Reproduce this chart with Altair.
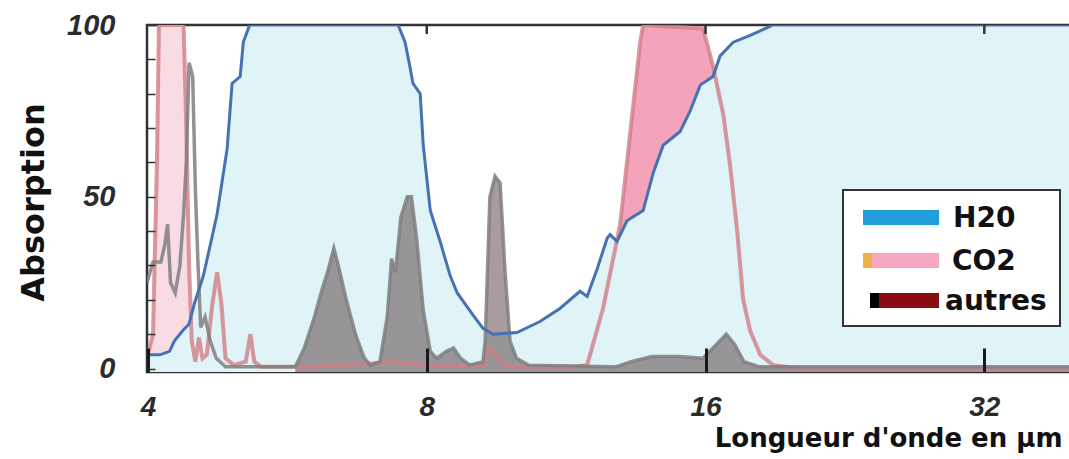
import altair as alt
import pandas as pd

# ---------------- data ----------------
# H2O absorption (blue outline, dotted cyan fill)
h2o_wl = [3.99, 4.12, 4.22, 4.27, 4.36, 4.43, 4.49, 4.59, 4.67, 4.75, 4.87, 4.93, 5.03, 5.07, 5.15,
          7.45, 7.58, 7.67, 7.73, 7.87, 7.93, 8.07, 8.27, 8.48, 8.63, 8.98, 9.20, 9.43, 10.01, 10.60,
          11.14, 11.71, 11.92, 12.22, 12.53, 12.62, 12.84, 13.16, 13.70, 14.05, 14.40, 15.02, 15.40,
          15.79, 16.30, 16.59, 17.14, 17.88, 18.93, 39.5]
h2o_abs = [4, 4, 5, 8, 11, 13, 19, 27, 36, 45, 64, 83, 85, 95, 100,
           100, 95, 88, 83, 80, 65, 46, 37, 27, 22, 15.5, 11.7, 10, 10.5, 13.7,
           17.5, 22.5, 21, 29, 38, 39, 37, 43, 46, 57, 65, 69, 75,
           82.5, 85, 91, 95, 97, 100, 100]

# CO2 absorption (pink outline)
co2_wl = [3.99, 4.05, 4.09, 4.11, 4.37, 4.40, 4.43, 4.46, 4.50, 4.54, 4.58, 4.63, 4.69, 4.75, 4.80,
          4.85, 4.95, 5.10, 5.16, 5.21, 5.30, 6.0, 7.0, 7.3, 8.0, 9.2, 9.35, 9.5, 9.65, 9.8, 10.5,
          11.5, 11.92, 12.40, 12.94, 13.36, 13.60, 13.70, 15.90, 16.30, 16.72, 17.01, 17.31, 17.57,
          17.88, 18.33, 18.93, 20.2, 39.5]
co2_abs = [3, 10, 60, 100, 100, 70, 30, 8, 2, 9, 3, 4, 18, 28, 19,
           3, 1, 2, 10, 2, 0.5, 0.5, 1.5, 2, 1, 1, 6, 4, 2, 0.5, 0.5,
           0.5, 1, 17.5, 42, 76, 95, 100, 99, 88, 74, 59, 40, 20,
           11, 4, 1, 0, 0]

# other gases (grey outline, dark dotted fill)
oth_wl = [3.99, 4.05, 4.13, 4.17, 4.20, 4.23, 4.28, 4.33, 4.37, 4.40, 4.43, 4.47, 4.50, 4.53, 4.56,
          4.61, 4.67, 4.74, 4.85, 5.77, 5.90, 6.05, 6.15, 6.25, 6.35, 6.42, 6.55, 6.70, 6.85, 6.95,
          7.12, 7.25, 7.33, 7.40, 7.50, 7.62, 7.70, 7.80, 7.93, 8.07, 8.20, 8.40, 8.55, 8.70, 8.90,
          9.20, 9.25, 9.36, 9.48, 9.60, 9.72, 9.84, 10.0, 10.3, 12.8, 13.3, 14.0, 15.0, 15.9, 16.3,
          16.85, 17.2, 17.6, 18.3, 39.5]
oth_abs = [25, 31, 31, 36, 42, 25, 22, 30, 45, 60, 89, 85, 52, 30, 12,
           15, 8, 3, 0.5, 0.5, 6, 15, 22, 28, 35, 30, 20, 10, 3, 1,
           2, 15, 32, 28, 44, 50, 50, 38, 17, 5, 3, 5, 6, 3, 1,
           2, 8, 50, 56, 54, 28, 8, 3, 1, 0.5, 2, 3.5, 3.5, 3, 6,
           10, 7, 2, 0.5, 0.5]

x_ticks = [4, 8, 16, 32]
y_ticks = [0, 10, 20, 30, 40, 50, 60, 70, 80, 90, 100]

legend_labels = ["H20", "CO2", "autres"]
legend_colors = ["#1f9ed9", "#f6a8c0", "#8a0b12"]
legend_tips = ["#1f9ed9", "#f0b04a", "#000000"]

h2o = pd.DataFrame({"wl": h2o_wl, "abs": h2o_abs})
co2 = pd.DataFrame({"wl": co2_wl, "abs": co2_abs})
oth = pd.DataFrame({"wl": oth_wl, "abs": oth_abs})
ticks_df = pd.DataFrame({"wl": x_ticks[1:]})

# ---------------- scales & axes ----------------
W, H = 922, 347
LABEL_FONT = "Liberation Sans"
TITLE_FONT = "DejaVu Sans"

xs = alt.Scale(type="log", base=2, domain=[3.99, 39.5], nice=False)
ys = alt.Scale(domain=[-1, 100], nice=False)

x_axis = alt.Axis(values=x_ticks, format="d", labelFlush=False, labelOverlap=False,
                  tickSize=24, offset=-24, labelPadding=21, domain=False, grid=False,
                  tickColor="#1a1a1a", tickWidth=3, zindex=1,
                  labelFont=LABEL_FONT, labelFontSize=28, labelFontWeight="bold",
                  labelFontStyle="italic", labelColor="#2b2b2b",
                  title="Longueur d'onde en µm", titleFont=TITLE_FONT, titleFontSize=26,
                  titleFontWeight="bold", titleColor="#111111",
                  titleAlign="right", titleX=915, titleY=98, titleBaseline="alphabetic")

y_axis = alt.Axis(values=y_ticks, labelExpr="datum.value % 50 == 0 ? datum.label : ''",
                  tickSize=8, offset=-8, labelPadding=32, domain=False, grid=False,
                  tickColor="#333", tickWidth=1.5, zindex=1,
                  labelFont=LABEL_FONT, labelFontSize=29, labelFontWeight="bold",
                  labelFontStyle="italic", labelColor="#2b2b2b",
                  title="Absorption", titleFont=TITLE_FONT, titleFontSize=32,
                  titleFontWeight="bold", titleColor="#111111",
                  titleAngle=270, titleAlign="center", titleBaseline="middle",
                  titleX=-122, titleY=177)


def X():
    return alt.X("wl:Q", scale=xs, axis=x_axis)


def Y():
    return alt.Y("abs:Q", scale=ys, axis=y_axis)


# ---------------- layers ----------------
co2_left_fill = alt.Chart(co2).transform_filter("datum.wl < 8").mark_area(
    color="#f8dbe3", clip=True).encode(x=X(), y=Y(), y2=alt.datum(-1))
co2_band_fill = alt.Chart(co2).transform_filter("datum.wl >= 8").mark_area(
    color="#f5a3bb", clip=True).encode(x=X(), y=Y(), y2=alt.datum(-1))
h2o_fill = alt.Chart(h2o).mark_area(color="#e0f3f6", clip=True).encode(
    x=X(), y=Y(), y2=alt.datum(-1))
oth_fill = alt.Chart(oth).transform_filter("datum.wl >= 5.5").mark_area(
    color="#2a070d", opacity=0.4, clip=True).encode(x=X(), y=Y(), y2=alt.datum(-1))

co2_line = alt.Chart(co2).mark_line(color="#d27d86", strokeWidth=4, opacity=0.8,
                                    clip=True).encode(x=X(), y=Y())
oth_line = alt.Chart(oth).mark_line(color="#7f7f7f", strokeWidth=3.5, opacity=0.85,
                                    clip=True).encode(x=X(), y=Y())
h2o_line = alt.Chart(h2o).mark_line(color="#4672b4", strokeWidth=3, clip=True).encode(
    x=X(), y=Y())

top_ticks = alt.Chart(ticks_df).mark_rule(color="#333", strokeWidth=2.5).encode(
    x=X(), y=alt.value(0), y2=alt.value(9))

one = pd.DataFrame({"k": [0]})
legend_box = alt.Chart(one).mark_rect(fill="white", stroke="#333", strokeWidth=2).encode(
    x=alt.value(696), x2=alt.value(913), y=alt.value(165), y2=alt.value(301))

legend_layers = [legend_box]
rows_y = [192.5, 235.5, 275.5]
sw_x0 = [716, 716, 723]
txt_x = [806, 805, 798]
for i, lab in enumerate(legend_labels):
    yy = rows_y[i]
    legend_layers.append(
        alt.Chart(one).mark_rule(strokeWidth=15, color=legend_colors[i]).encode(
            x=alt.value(sw_x0[i]), x2=alt.value(792), y=alt.value(yy)))
    legend_layers.append(
        alt.Chart(one).mark_rule(strokeWidth=15, color=legend_tips[i]).encode(
            x=alt.value(sw_x0[i]), x2=alt.value(sw_x0[i] + 9), y=alt.value(yy)))
    legend_layers.append(
        alt.Chart(pd.DataFrame({"label": [lab]})).mark_text(
            align="left", baseline="middle", font=TITLE_FONT, fontSize=28,
            fontWeight="bold", color="#111111").encode(
            x=alt.value(txt_x[i]), y=alt.value(yy + 1), text="label:N"))

chart = alt.layer(
    co2_left_fill, co2_band_fill, h2o_fill, oth_fill,
    co2_line, oth_line, h2o_line, top_ticks, *legend_layers
).properties(
    width=W, height=H,
    autosize=alt.AutoSizeParams(type="none"),
    padding={"left": 147, "top": 25, "right": 0, "bottom": 87},
    background="white",
).configure_view(stroke="#333333", strokeWidth=2.5)

chart.save("out.html", embed_options={"renderer": "svg", "actions": False})
